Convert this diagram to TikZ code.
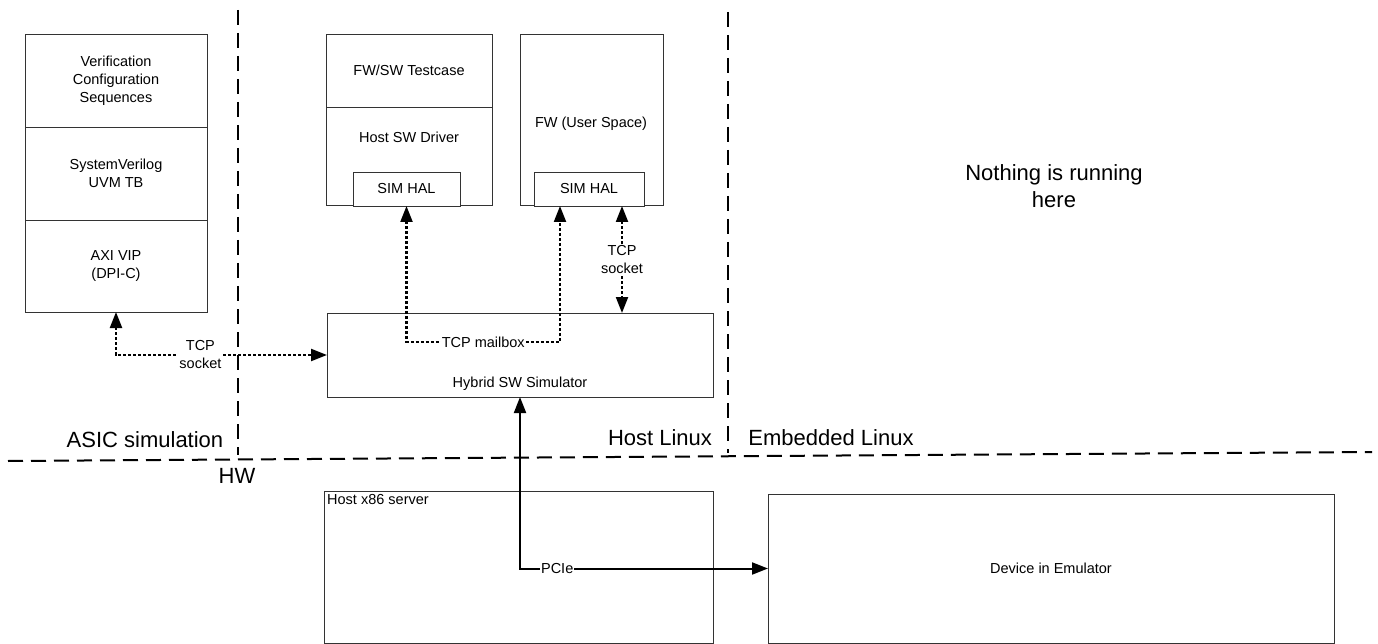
\documentclass[tikz,border=0pt]{standalone}
\usepackage{fontspec}
\setmainfont{Liberation Sans}
\usetikzlibrary{arrows.meta,calc}
\begin{document}
\begin{tikzpicture}[x=1pt,y=-1pt,
  box/.style={draw=black!80,line width=0.9pt,fill=white,inner sep=0pt,outer sep=0pt,anchor=north west,align=center,
    font=\fontsize{14.5}{18}\selectfont},
  txt/.style={inner sep=1pt,align=center,font=\fontsize{14.5}{18}\selectfont},
  big/.style={inner sep=0pt,align=center,font=\fontsize{22}{27}\selectfont},
  divider/.style={line width=2pt,dash pattern=on 15pt off 8pt},
  dotline/.style={line width=2.1pt,dash pattern=on 3pt off 2pt,{Triangle[length=16pt,width=12pt]}-{Triangle[length=16pt,width=12pt]}},
  solidline/.style={line width=2pt,{Triangle[length=16pt,width=12pt]}-{Triangle[length=16pt,width=12pt]}},
  lbl/.style={fill=white,inner sep=1pt,align=center,font=\fontsize{14.5}{18}\selectfont}]
\useasboundingbox (0,0) rectangle (1378,644);

% dividers
\coordinate (hl1) at (8,461);
\coordinate (hl2) at (1372,452);
\coordinate (vl1a) at (238,10);
\coordinate (vl1b) at (238,455);
\coordinate (vl2a) at (728,12);
\coordinate (vl2b) at (728,453);
\draw[divider] (hl1) -- (hl2);
\draw[divider] (vl1a) -- (vl1b);
\draw[divider] (vl2a) -- (vl2b);

% left stack
\node[box,minimum width=182pt,minimum height=93pt] (vcs) at (25,34) {Verification\\Configuration\\Sequences};
\node[box,minimum width=182pt,minimum height=93pt] (svuvm) at (25,127) {SystemVerilog\\UVM TB};
\node[box,minimum width=182pt,minimum height=92pt] (axi) at (25,220) {AXI VIP\\(DPI-C)};

% host driver column
\node[box,minimum width=166pt,minimum height=73pt] (fwsw) at (326,34) {FW/SW Testcase};
\node[box,minimum width=166pt,minimum height=98pt] (hostdrv) at (326,107) {};
\node[txt] (hostdrvt) at (409,137) {Host SW Driver};
\node[box,minimum width=107pt,minimum height=34pt] (simhal1) at (353,172) {SIM HAL};

% FW user space column
\node[box,minimum width=143pt,minimum height=171pt] (fwuser) at (520,34) {};
\node[txt] (fwusert) at (591,124) {FW (User Space)};
\node[box,minimum width=110pt,minimum height=34pt] (simhal2) at (534,172) {SIM HAL};

% hybrid simulator
\node[box,minimum width=386pt,minimum height=84pt] (hybrid) at (327,313) {};
\node[txt] (hybridt) at (520,384) {Hybrid SW Simulator};

% HW boxes
\node[box,minimum width=389pt,minimum height=152pt] (host86) at (324,491) {};
\node[txt,anchor=north west] (host86t) at (326,493) {Host x86 server};
\node[box,minimum width=566pt,minimum height=149pt] (device) at (768,494) {Device in Emulator};

% region labels
\node[big] (asic) at (145,440) {ASIC simulation};
\node[big] (hostlinux) at (660,438) {Host Linux};
\node[big] (emblinux) at (831,438) {Embedded Linux};
\node[big] (hw) at (237,476) {HW};
\node[big] (nothing) at (1054,186) {Nothing is running\\here};

% connectors
\draw[dotline] (axi.south) |- node[lbl,pos=0.7] {TCP\\socket} (hybrid.west);

\coordinate (mbB) at ($(simhal2.south)+(-29,0)$);
\coordinate (mbY) at (0,342);
\draw[dotline] (simhal1.south) -- (simhal1.south |- mbY) -- node[lbl] {TCP mailbox} (mbB |- mbY) -- (mbB);

\coordinate (sockT) at ($(simhal2.south)+(33,0)$);
\coordinate (sockB) at (sockT |- hybrid.north);
\draw[dotline] (sockT) -- node[lbl] {TCP\\socket} (sockB);

\draw[solidline] (hybrid.south) |- node[lbl,pos=0.575] {PCIe} (device.west);
\end{tikzpicture}
\end{document}
